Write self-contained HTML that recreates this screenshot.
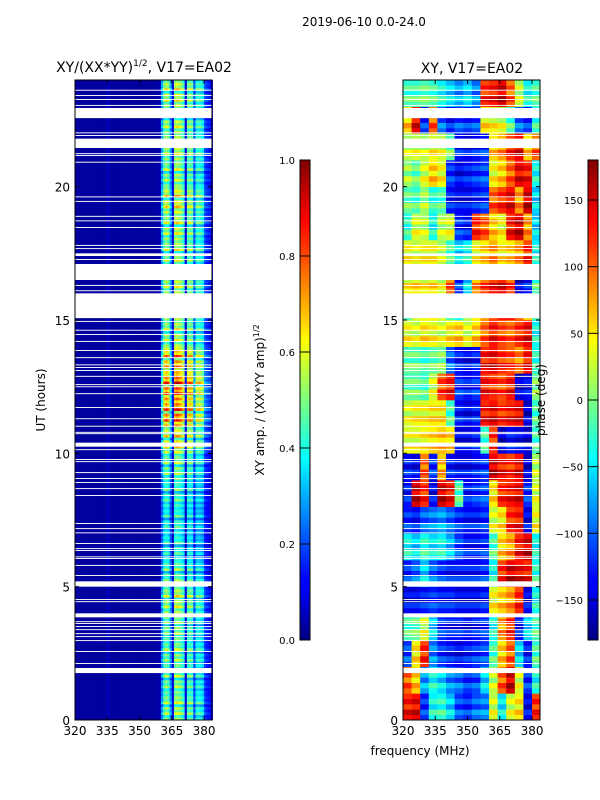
<!DOCTYPE html>
<html><head><meta charset="utf-8">
<style>
html,body{margin:0;padding:0;background:#fff;}
svg{display:block;font-family:"DejaVu Sans","Liberation Sans",sans-serif;}
</style></head>
<body>
<svg id="fig" width="600" height="800" viewBox="0 0 600 800" xmlns="http://www.w3.org/2000/svg">
<defs>
<linearGradient id="jet" x1="0" y1="1" x2="0" y2="0">
<stop offset="0" stop-color="#00007f"/><stop offset="0.11" stop-color="#0000ff"/>
<stop offset="0.125" stop-color="#0000ff"/><stop offset="0.34" stop-color="#00d4ff"/>
<stop offset="0.375" stop-color="#00ffff"/><stop offset="0.5" stop-color="#7fff7f"/>
<stop offset="0.625" stop-color="#ffff00"/><stop offset="0.66" stop-color="#ffd400"/>
<stop offset="0.875" stop-color="#ff0000"/><stop offset="1" stop-color="#7f0000"/>
</linearGradient>
</defs>
<text x="364" y="26" font-size="12" text-anchor="middle">2019-06-10 0.0-24.0</text>
<text x="144" y="72" font-size="14" text-anchor="middle">XY/(XX*YY)<tspan font-size="9" dy="-6">1/2</tspan><tspan dy="6">, V17=EA02</tspan></text>
<text x="472" y="73" font-size="14" text-anchor="middle">XY, V17=EA02</text>
<g id="ampCells"></g>
<g id="phCells"></g>
<g id="gaps"></g>
<g id="axes"></g>
<text x="45" y="400" font-size="12" text-anchor="middle" transform="rotate(-90 45 400)">UT (hours)</text>
<text x="420" y="755" font-size="12" text-anchor="middle">frequency (MHz)</text>
<rect x="300" y="160" width="10" height="480" fill="url(#jet)" stroke="#000" stroke-width="1"/>
<rect x="588" y="160" width="10" height="480" fill="url(#jet)" stroke="#000" stroke-width="1"/>
<text x="264" y="400" font-size="12" text-anchor="middle" transform="rotate(-90 264 400)">XY amp. / (XX*YY amp)<tspan font-size="8" dy="-5">1/2</tspan></text>
<text x="545" y="400" font-size="12" text-anchor="middle" transform="rotate(-90 545 400)">phase (deg)</text>
<g id="cbar"></g>
</svg>
<script>
// ---- data ----
const hours = [0,1,2,3,4,5,6,7,8,9,10,11,12,13,14,15,16,17,18,19,20,21,22,23];
const ampFreqs = [];
for (let f = 320; f < 384; f++) ampFreqs.push(f);
const ampProfile = [0.03,0.03,0.03,0.03,0.03,0.03,0.03,0.03,0.03,0.03,0.03,0.03,0.03,0.03,0.03,0.07,0.03,0.03,0.03,0.03,
 0.03,0.03,0.03,0.03,0.03,0.03,0.03,0.03,0.03,0.03,0.03,0.03,0.03,0.03,0.03,0.03,0.03,0.03,0.04,0.05,
 0.3,0.5,0.55,0.5,0.3,0.1,0.55,0.58,0.55,0.52,0.45,0.1,0.48,0.5,0.48,0.22,0.42,0.44,0.42,0.38,0.2,0.17,0.15,0.12];
const ampHourLevel = [0.95,0.9,0.9,0.9,1.0,0.85,0.75,0.75,0.8,0.9,1.1,1.35,1.4,1.25,1.0,1.0,1.0,1.0,1.0,1.1,0.95,1.0,1.0,1.05];
const subRowMod = [1,0.8,1.15,0.9,1.05,0.7,1.2,0.9,1,0.85];
const phFreqs = [320,324,328,332,336,340,344,348,352,356,360,364,368,372,376,380];
const phase = [
 [130,140,-120,-40,-30,-60,-110,-120,-100,-90,30,-50,30,50,-140,120],
 [100,60,-80,-40,-60,-90,-100,-120,-110,-60,20,100,150,30,-120,-40],
 [-110,50,120,-90,-120,-130,-140,-130,-120,-110,-20,60,100,-60,-130,-20],
 [-20,-10,30,-60,-120,-130,-130,-140,-130,-120,-40,80,120,-130,-60,-20],
 [-140,-140,-130,-120,-130,-130,-140,-140,-140,-130,40,60,80,120,-140,-40],
 [-120,-100,-60,-100,-120,-130,-130,-130,-130,-120,-40,120,150,140,130,-30],
 [-40,-60,-30,-50,-40,-70,-110,-130,-130,-120,-20,60,80,130,150,-40],
 [-120,-130,-100,-90,-80,-100,-120,-130,-130,-120,30,50,120,130,-140,40],
 [-130,150,120,-140,150,130,-20,-130,-120,-110,50,120,130,140,-120,30],
 [-130,-140,100,-120,70,-130,-140,-140,-130,-120,150,130,120,140,-150,20],
 [40,40,50,60,70,60,-140,-140,-130,-20,120,-150,-130,-140,-150,-20],
 [30,40,40,50,50,-20,-130,-140,-130,130,140,120,130,140,-150,-20],
 [-10,-10,-20,30,110,130,-120,-130,-120,130,120,110,130,-150,-140,0],
 [-10,-10,-20,-10,0,-100,-130,-140,-130,130,140,120,110,90,130,-30],
 [40,30,50,40,30,50,60,30,60,100,130,110,100,120,140,-40],
 [-20,30,40,50,30,-20,-40,20,50,80,110,130,130,100,60,-20],
 [40,50,40,50,30,100,-120,-60,80,110,130,140,110,-150,-130,-20],
 [40,30,40,40,20,-20,-60,-40,40,60,80,50,60,80,120,-40],
 [-30,30,20,-40,20,30,-120,-130,120,100,60,40,130,150,80,-60],
 [-10,-20,10,-30,-20,-130,-140,-140,-130,-120,100,120,140,80,150,-60],
 [10,-10,30,60,40,-120,-140,-130,-120,-110,40,60,100,140,130,-40],
 [20,30,20,40,30,-10,-130,-140,-130,-120,60,80,120,140,60,100],
 [60,140,-120,100,-100,-130,-110,-120,-110,50,40,30,-20,-100,-120,-30],
 [-20,-20,-10,-20,-40,-60,-80,-60,-90,120,130,150,100,20,-40,-20]
];
const phaseSubOffset = [0,25,-20,15,-10];
const gapStart = [22.57,21.45,16.5,15.07,10.25,5.0,3.85,1.76,17.4];
const gapEnd   = [22.95,21.8,17.1,16.0,10.4,5.2,4.0,1.95,17.5];
const thinGaps = [23.6,23.4,23.25,23.03,22.0,21.9,21.22,21.15,20.9,19.6,19.43,18.87,18.7,18.45,17.78,17.66,17.25,16.28,16.08,
 14.93,14.6,14.44,14.18,13.84,13.57,13.3,13.2,13.09,12.87,12.56,12.48,12.22,11.7,11.28,11.0,10.77,10.72,10.12,9.75,9.67,9.26,9.04,
 8.89,8.66,8.4,7.35,7.16,7.0,6.6,6.41,6.34,6.1,6.04,5.78,5.4,4.5,4.42,3.67,3.6,3.49,3.37,3.22,3.11,2.96,2.55,2.1];
const xTicks = [320,335,350,365,380];
const yTicks = [0,5,10,15,20];
const ampCbTicks = [0.0,0.2,0.4,0.6,0.8,1.0];
const phCbTicks = [-150,-100,-50,0,50,100,150];

// ---- scales ----
const NS = "http://www.w3.org/2000/svg";
const P1 = {x0:75, x1:212}, P2 = {x0:403, x1:540};
const Y0 = 720, Y1 = 80;
const F0 = 320, F1 = 383.7;
const xs = (p, f) => p.x0 + (f - F0) / (F1 - F0) * (p.x1 - p.x0);
const ys = h => Y0 - h / 24 * (Y0 - Y1);
function jet(v){ v=Math.max(0,Math.min(1,v));
 const c=t=>Math.round(255*Math.max(0,Math.min(1,t)));
 return `rgb(${c(1.5-Math.abs(4*v-3))},${c(1.5-Math.abs(4*v-2))},${c(1.5-Math.abs(4*v-1))})`; }
function mk(tag, attrs, parent){ const e=document.createElementNS(NS,tag); for(const k in attrs) e.setAttribute(k,attrs[k]); parent.appendChild(e); return e; }

const gA = document.getElementById('ampCells');
hours.forEach((h, hi) => {
 subRowMod.forEach((m, si) => {
  const t0 = h + si/10, t1 = t0 + 0.1;
  ampFreqs.forEach((f, fi) => {
   let v = ampProfile[fi];
   if (f >= 360) v = v * ampHourLevel[hi] * m;
   const r = mk('rect',{x:xs(P1,f),y:ys(t1),width:xs(P1,f+1)-xs(P1,f)+0.3,height:ys(t0)-ys(t1)+0.3,fill:jet(v)},gA);
   
   
  });
 });
});
const gP = document.getElementById('phCells');
hours.forEach((h, hi) => {
 phaseSubOffset.forEach((off, si) => {
  const t0 = h + si/5, t1 = t0 + 0.2;
  phFreqs.forEach((f, fi) => {
   let ph = phase[hi][fi] + off;
   if (ph > 180) ph -= 360; if (ph < -180) ph += 360;
   const v = (ph + 180) / 360;
   const fEnd = fi < phFreqs.length-1 ? phFreqs[fi+1] : F1;
   const r = mk('rect',{x:xs(P2,f),y:ys(t1),width:xs(P2,fEnd)-xs(P2,f)+0.3,height:ys(t0)-ys(t1)+0.3,fill:jet(v)},gP);
   
   
  });
 });
});
const gG = document.getElementById('gaps');
[P1,P2].forEach(p => {
 gapStart.forEach((s, i) => {
  const r = mk('rect',{x:p.x0,y:ys(gapEnd[i]),width:p.x1-p.x0,height:ys(s)-ys(gapEnd[i]),fill:'#fff'},gG);
  
  
 });
 thinGaps.forEach(t => {
  const r = mk('rect',{x:p.x0,y:ys(t+0.035),width:p.x1-p.x0,height:ys(t)-ys(t+0.035),fill:'#fff'},gG);
  
  
 });
});
const gX = document.getElementById('axes');
[P1,P2].forEach((p, pi) => {
 const fr = mk('rect',{x:p.x0,y:Y1,width:p.x1-p.x0,height:Y0-Y1,fill:'none',stroke:'#000','stroke-width':1},gX);
 
 
 xTicks.forEach(f => {
  const x = xs(p,f);
  mk('line',{x1:x,y1:Y0,x2:x,y2:Y0-4,stroke:'#000'},gX);
  mk('line',{x1:x,y1:Y1,x2:x,y2:Y1+4,stroke:'#000'},gX);
  const t = mk('text',{x:x,y:Y0+15,'font-size':12,'text-anchor':'middle'},gX);
  t.textContent = f;
  
  
 });
 yTicks.forEach(h => {
  const y = ys(h);
  mk('line',{x1:p.x0,y1:y,x2:p.x0+4,y2:y,stroke:'#000'},gX);
  mk('line',{x1:p.x1,y1:y,x2:p.x1-4,y2:y,stroke:'#000'},gX);
  const t = mk('text',{x:p.x0-5,y:y+5,'font-size':12,'text-anchor':'end'},gX);
  t.textContent = h;
  
  
 });
});
const gC = document.getElementById('cbar');
ampCbTicks.forEach(v => {
 const y = 640 - v * 480;
 mk('line',{x1:300,y1:y,x2:310,y2:y,stroke:'#000'},gC);
 const t = mk('text',{x:295,y:y+4,'font-size':10,'text-anchor':'end'},gC);
 t.textContent = v.toFixed(1);
 
 
});
phCbTicks.forEach(v => {
 const y = 640 - (v + 180) / 360 * 480;
 mk('line',{x1:588,y1:y,x2:598,y2:y,stroke:'#000'},gC);
 const t = mk('text',{x:583,y:y+4,'font-size':10,'text-anchor':'end'},gC);
 t.textContent = v < 0 ? '\u2212' + (-v) : v;
 
 
});
</script>
</body></html>
